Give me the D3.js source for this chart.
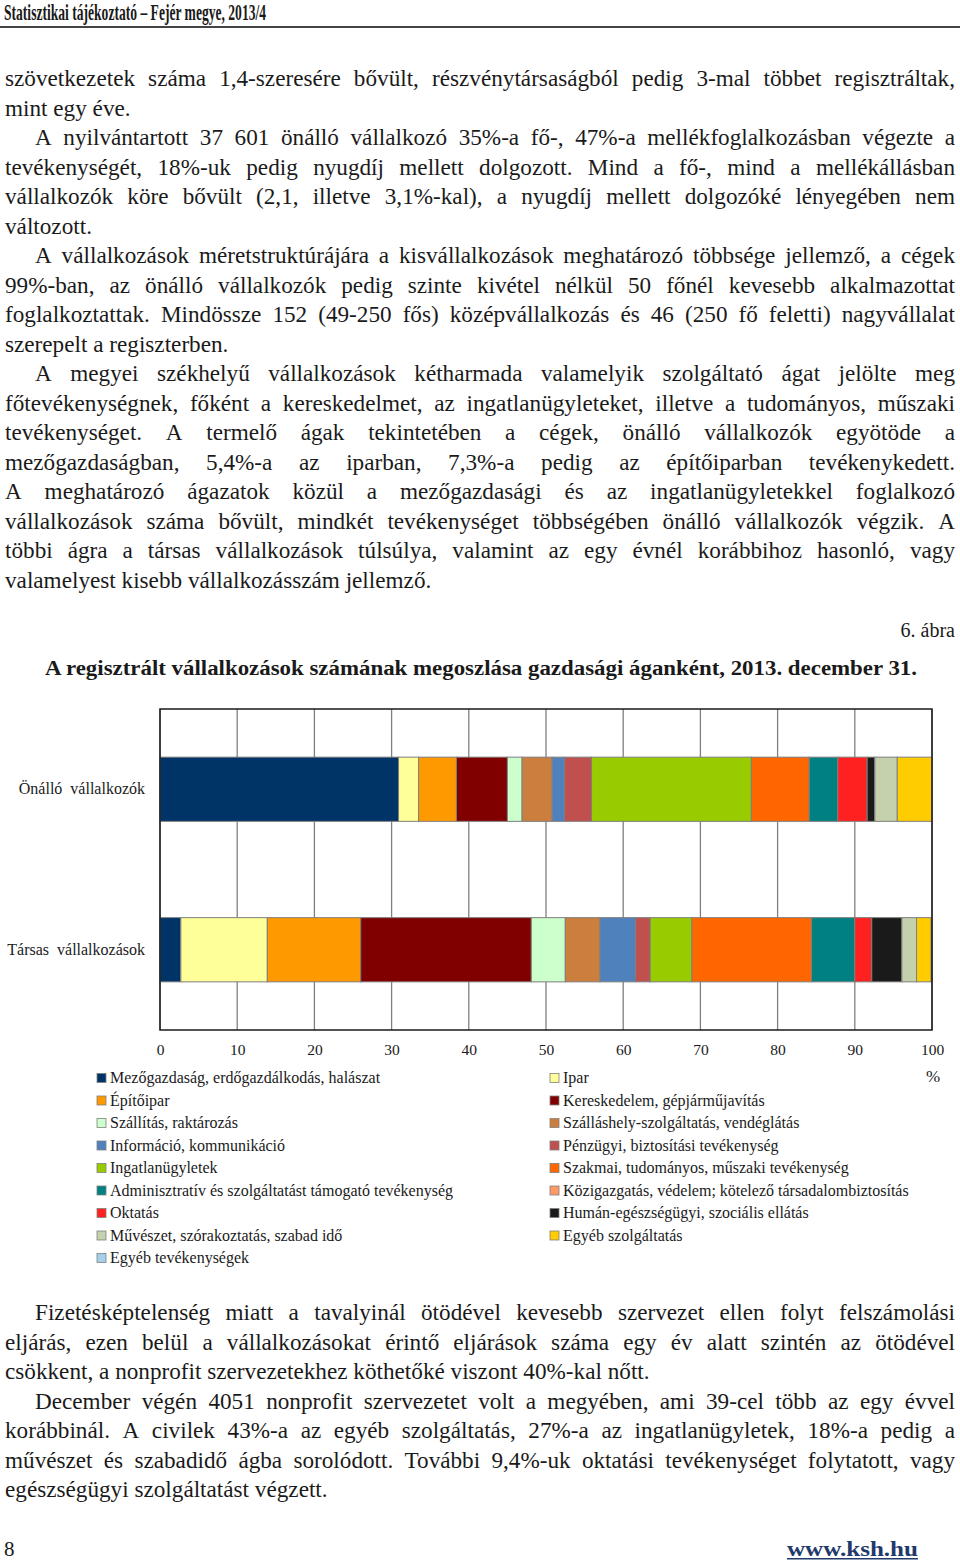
<!DOCTYPE html>
<html><head><meta charset="utf-8">
<script src="https://cdn.jsdelivr.net/npm/d3@7"></script>
<style>
html,body{margin:0;padding:0;background:#fff;}
svg{display:block;}
text{font-family:"Liberation Serif","Times New Roman",serif;fill:#1a1a1a;}
</style></head>
<body>
<script>
// ---------- data ----------
const categories = ["Önálló  vállalkozók", "Társas  vállalkozások"];
const sectors = [
  "Mezőgazdaság, erdőgazdálkodás, halászat", "Ipar", "Építőipar",
  "Kereskedelem, gépjárműjavítás", "Szállítás, raktározás",
  "Szálláshely-szolgáltatás, vendéglátás", "Információ, kommunikáció",
  "Pénzügyi, biztosítási tevékenység", "Ingatlanügyletek",
  "Szakmai, tudományos, műszaki tevékenység",
  "Adminisztratív és szolgáltatást támogató tevékenység",
  "Közigazgatás, védelem; kötelező társadalombiztosítás", "Oktatás",
  "Humán-egészségügyi, szociális ellátás",
  "Művészet, szórakoztatás, szabad idő", "Egyéb szolgáltatás",
  "Egyéb tevékenységek"];
const onalloValues = [30.9, 2.6, 4.9, 6.6, 1.9, 3.9, 1.6, 3.5, 20.7, 7.5, 3.7, 0.0, 3.8, 1.0, 2.9, 4.7, 0.0];
const tarsasValues = [2.7, 11.2, 12.1, 22.1, 4.4, 4.5, 4.6, 1.9, 5.4, 15.5, 5.6, 0.0, 2.2, 3.9, 1.9, 1.9, 0.1];
const sectorColors = ["#003366", "#FFFF99", "#FF9900", "#800000", "#CCFFCC", "#CC7E3E", "#4F81BD",
  "#C0504D", "#99CC00", "#FF6600", "#008080", "#FF9966", "#FF2020", "#1A1A1A", "#C4D1AC", "#FFCC00", "#A6CFEA"];
const tickValues = [0, 10, 20, 30, 40, 50, 60, 70, 80, 90, 100];

const headerText = "Statisztikai tájékoztató – Fejér megye, 2013/4";
const figLabel = "6. ábra";
const chartTitle = "A regisztrált vállalkozások számának megoszlása gazdasági áganként, 2013. december 31.";
// [text, indent, justify]
const topLines = [
  ["szövetkezetek száma 1,4-szeresére bővült, részvénytársaságból pedig 3-mal többet regisztráltak,", 0, 1],
  ["mint egy éve.", 0, 0],
  ["A nyilvántartott 37 601 önálló vállalkozó 35%-a fő-, 47%-a mellékfoglalkozásban végezte a", 1, 1],
  ["tevékenységét, 18%-uk pedig nyugdíj mellett dolgozott. Mind a fő-, mind a mellékállásban", 0, 1],
  ["vállalkozók köre bővült (2,1, illetve 3,1%-kal), a nyugdíj mellett dolgozóké lényegében nem", 0, 1],
  ["változott.", 0, 0],
  ["A vállalkozások méretstruktúrájára a kisvállalkozások meghatározó többsége jellemző, a cégek", 1, 1],
  ["99%-ban, az önálló vállalkozók pedig szinte kivétel nélkül 50 főnél kevesebb alkalmazottat", 0, 1],
  ["foglalkoztattak. Mindössze 152 (49-250 fős) középvállalkozás és 46 (250 fő feletti) nagyvállalat", 0, 1],
  ["szerepelt a regiszterben.", 0, 0],
  ["A megyei székhelyű vállalkozások kétharmada valamelyik szolgáltató ágat jelölte meg", 1, 1],
  ["főtevékenységnek, főként a kereskedelmet, az ingatlanügyleteket, illetve a tudományos, műszaki", 0, 1],
  ["tevékenységet. A termelő ágak tekintetében a cégek, önálló vállalkozók egyötöde a", 0, 1],
  ["mezőgazdaságban, 5,4%-a az iparban, 7,3%-a pedig az építőiparban tevékenykedett.", 0, 1],
  ["A meghatározó ágazatok közül a mezőgazdasági és az ingatlanügyletekkel foglalkozó", 0, 1],
  ["vállalkozások száma bővült, mindkét tevékenységet többségében önálló vállalkozók végzik. A", 0, 1],
  ["többi ágra a társas vállalkozások túlsúlya, valamint az egy évnél korábbihoz hasonló, vagy", 0, 1],
  ["valamelyest kisebb vállalkozásszám jellemző.", 0, 0]
];
const bottomLines = [
  ["Fizetésképtelenség miatt a tavalyinál ötödével kevesebb szervezet ellen folyt felszámolási", 1, 1],
  ["eljárás, ezen belül a vállalkozásokat érintő eljárások száma egy év alatt szintén az ötödével", 0, 1],
  ["csökkent, a nonprofit szervezetekhez köthetőké viszont 40%-kal nőtt.", 0, 0],
  ["December végén 4051 nonprofit szervezetet volt a megyében, ami 39-cel több az egy évvel", 1, 1],
  ["korábbinál. A civilek 43%-a az egyéb szolgáltatás, 27%-a az ingatlanügyletek, 18%-a pedig a", 0, 1],
  ["művészet és szabadidő ágba sorolódott. További 9,4%-uk oktatási tevékenységet folytatott, vagy", 0, 1],
  ["egészségügyi szolgáltatást végzett.", 0, 0]
];
const pageNumber = "8";
const footerLink = "www.ksh.hu";

// ---------- drawing ----------
const W = 960, H = 1562;
const svg = d3.select("body").append("svg").attr("width", W).attr("height", H);

// header
svg.append("text").attr("x", 4).attr("y", 20)
  .attr("font-size", 23).attr("font-weight", "bold")
  .attr("textLength", 262).attr("lengthAdjust", "spacingAndGlyphs")
  .text(headerText);
svg.append("rect").attr("x", 0).attr("y", 26).attr("width", W).attr("height", 2).attr("fill", "#444");

// justified paragraph lines
const bodySize = 23.2;
const measurer = svg.append("text").attr("font-size", bodySize).attr("x", -1000).attr("y", -1000);
function wordWidth(w) { measurer.text(w); return measurer.node().getComputedTextLength(); }
const spaceW = (function () { measurer.text("a a"); const t = measurer.node().getComputedTextLength(); measurer.text("aa"); return t - measurer.node().getComputedTextLength(); })();

function drawLines(lines, y0, step) {
  lines.forEach((ln, i) => {
    const [str, indent, justify] = ln;
    const left = indent ? 35 : 5, right = 955;
    const words = str.split(" ");
    const widths = words.map(wordWidth);
    const total = d3.sum(widths);
    let gap = spaceW;
    if (justify && words.length > 1) gap = (right - left - total) / (words.length - 1);
    const t = svg.append("text").attr("font-size", bodySize).attr("y", y0 + i * step + 7);
    let x = left;
    words.forEach((w, j) => {
      t.append("tspan").attr("x", x).text(w);
      x += widths[j] + gap;
    });
  });
}
drawLines(topLines, 79, 29.5);
drawLines(bottomLines, 1313, 29.5);
measurer.remove();

// figure label & title
svg.append("text").attr("x", 955).attr("y", 637).attr("text-anchor", "end").attr("font-size", 20).text(figLabel);
svg.append("text").attr("x", 481).attr("y", 675).attr("text-anchor", "middle").attr("font-size", 20)
  .attr("font-weight", "bold").attr("textLength", 872).attr("lengthAdjust", "spacingAndGlyphs").text(chartTitle);

// chart
const plot = { x0: 160, x1: 932, y0: 709, y1: 1030 };
const x = d3.scaleLinear().domain([0, 100]).range([plot.x0, plot.x1]);
const y = d3.scaleBand().domain(categories).range([plot.y0, plot.y1]).paddingInner(0.6).paddingOuter(0.3);

const g = svg.append("g");
g.append("rect").attr("x", plot.x0).attr("y", plot.y0).attr("width", plot.x1 - plot.x0).attr("height", plot.y1 - plot.y0)
  .attr("fill", "#fff").attr("stroke", "none");
// grid
g.selectAll("line.grid").data(tickValues).join("line").attr("class", "grid")
  .attr("x1", d => x(d)).attr("x2", d => x(d)).attr("y1", plot.y0).attr("y2", plot.y1)
  .attr("stroke", "#808080").attr("stroke-width", 1.3);

const seriesRows = [onalloValues, tarsasValues];
seriesRows.forEach((vals, ci) => {
  let cum = 0;
  const segs = vals.map((v, si) => { const s = { x0: cum, x1: cum + v, si }; cum += v; return s; })
    .filter(s => s.x1 - s.x0 > 0.05);
  g.selectAll("rect.seg" + ci).data(segs).join("rect").attr("class", "seg" + ci)
    .attr("x", d => x(d.x0)).attr("width", d => Math.max(0, x(Math.min(100, d.x1)) - x(d.x0)))
    .attr("y", y(categories[ci])).attr("height", y.bandwidth())
    .attr("fill", d => sectorColors[d.si]).attr("stroke", "#7f7f7f").attr("stroke-width", 1);
});
// plot border
g.append("rect").attr("x", plot.x0).attr("y", plot.y0).attr("width", plot.x1 - plot.x0).attr("height", plot.y1 - plot.y0)
  .attr("fill", "none").attr("stroke", "#1a1a1a").attr("stroke-width", 1.5);

// axes
const xAxis = d3.axisBottom(x).tickValues(tickValues).tickSize(0).tickPadding(14);
const xa = svg.append("g").attr("transform", `translate(0,${plot.y1})`).call(xAxis);
xa.select(".domain").remove();
xa.selectAll("text").attr("font-size", 15.5).attr("fill", "#1a1a1a")
  .style("font-family", '"Liberation Serif", serif');
const yAxis = d3.axisLeft(y).tickSize(0).tickPadding(15);
const ya = svg.append("g").attr("transform", `translate(${plot.x0},0)`).call(yAxis);
ya.select(".domain").remove();
ya.selectAll("text").attr("font-size", 16).attr("fill", "#1a1a1a")
  .style("font-family", '"Liberation Serif", serif').style("white-space", "pre").attr("xml:space", "preserve");

svg.append("text").attr("x", 933).attr("y", 1082).attr("text-anchor", "middle").attr("font-size", 17).text("%");

// legend (two columns, row-major)
const leg = svg.append("g");
sectors.forEach((s, i) => {
  const col = i % 2, row = Math.floor(i / 2);
  const lx = col === 0 ? 97 : 550, ly = 1078 + row * 22.5;
  leg.append("rect").attr("x", lx).attr("y", ly - 4.5).attr("width", 9).attr("height", 9)
    .attr("fill", sectorColors[i]).attr("stroke", "#808080").attr("stroke-width", 0.8);
  leg.append("text").attr("x", lx + 13).attr("y", ly + 5).attr("font-size", 16).text(s);
});

// footer
svg.append("text").attr("x", 4).attr("y", 1556).attr("font-size", 21).text(pageNumber);
svg.append("text").attr("x", 918).attr("y", 1556).attr("text-anchor", "end").attr("font-size", 21)
  .attr("font-weight", "bold").attr("fill", "#1F3A6B").style("fill", "#1F3A6B")
  .attr("textLength", 131).attr("lengthAdjust", "spacingAndGlyphs").text(footerLink);
svg.append("rect").attr("x", 787).attr("y", 1558).attr("width", 131).attr("height", 1.5).attr("fill", "#1F3A6B");
</script>
</body></html>
